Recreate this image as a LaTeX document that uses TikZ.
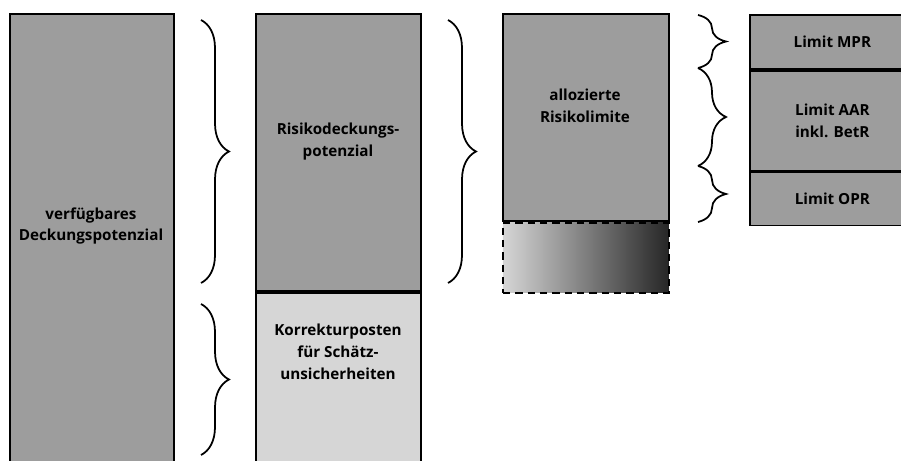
\documentclass[tikz,border=0pt]{standalone}
\usepackage{fontspec}
\setmainfont{Open Sans}
\usetikzlibrary{positioning,decorations.pathreplacing}
\definecolor{darkfill}{HTML}{9D9D9D}
\definecolor{lightfill}{HTML}{D6D6D6}
\definecolor{shadeend}{HTML}{262626}
\begin{document}
\begin{tikzpicture}[
    x=0.03cm, y=-0.03cm,
    blk/.style={draw, fill=#1, line width=1.5pt, minimum width=4.95cm,
                inner sep=0pt, font=\bfseries\fontsize{13}{18.7}\selectfont, align=center},
    lbl/.style={font=\bfseries\fontsize{13}{18.7}\selectfont, align=center, inner sep=0pt},
    brc/.style={decorate, decoration={brace, amplitude=0.84cm}, line width=1.5pt},
  ]
    \useasboundingbox (0,0) rectangle (901,461);
    \clip (0,0) rectangle (901,461);

    % Columns
    \node[blk=darkfill, minimum width=4.92cm, minimum height=14cm, anchor=north west] (avail) at (9,13) {};
    \node[blk=darkfill, minimum height=8.31cm, anchor=north west] (rdp) at (255,13) {};
    \node[blk=lightfill, minimum height=5.7cm, below=0pt of rdp] (korr) {};
    \node[blk=darkfill, minimum width=4.98cm, minimum height=6.21cm, anchor=north west] (alloc) at (502,13) {};
    \node[blk, dashed, dash pattern=on 0.22cm off 0.15cm, minimum width=4.98cm, minimum height=2.1cm,
          left color=lightfill, right color=shadeend, below=0pt of alloc] (rest) {};

    % Limits
    \node[blk=darkfill, minimum height=1.62cm, anchor=north west] (mpr) at (749,14) {Limit MPR};
    \node[blk=darkfill, minimum height=3.0cm, below=0pt of mpr] (aar) {Limit AAR\\inkl. BetR};
    \node[blk=darkfill, minimum height=1.59cm, below=0pt of aar] (opr) {Limit OPR};

    % Labels
    \node[lbl] (tavail) at (91,226) {verfügbares\\Deckungspotenzial};
    \node[lbl] (trdp)   at (338,142) {Risikodeckungs-\\potenzial};
    \node[lbl] (tkorr)  at (338,352) {Korrekturposten\\für Schätz-\\unsicherheiten};
    \node[lbl] (talloc) at (585,106) {allozierte\\Risikolimite};

    % Braces
    \coordinate (b1t) at (201,20);  \coordinate (b1b) at (201,283);
    \coordinate (b2t) at (201,304); \coordinate (b2b) at (201,455);
    \coordinate (b3t) at (448,20);  \coordinate (b3b) at (448,283);
    \coordinate (b4t) at (698,15);  \coordinate (b4b) at (698,68);
    \coordinate (b5b) at (698,166); \coordinate (b6b) at (698,222);
    \draw[brc] (b1t) -- (b1b);
    \draw[brc] (b2t) -- (b2b);
    \draw[brc] (b3t) -- (b3b);
    \draw[brc] (b4t) -- (b4b);
    \draw[brc] (b4b) -- (b5b);
    \draw[brc] (b5b) -- (b6b);
  \end{tikzpicture}
\end{document}
